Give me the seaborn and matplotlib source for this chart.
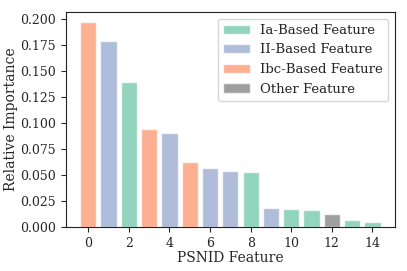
import matplotlib
matplotlib.use("Agg")
import matplotlib.pyplot as plt
import seaborn as sns
import pandas as pd
from matplotlib.patches import Patch
from matplotlib.ticker import FormatStrFormatter

features = list(range(15))
importance = [0.197, 0.179, 0.139, 0.094, 0.090, 0.063, 0.057, 0.054, 0.053,
              0.018, 0.017, 0.016, 0.013, 0.007, 0.005]
ftype = ["Ibc", "II", "Ia", "Ibc", "II", "Ibc", "II", "II", "Ia",
         "II", "Ia", "Ia", "Other", "Ia", "Ia"]
labels = ["Ia-Based Feature", "II-Based Feature", "Ibc-Based Feature", "Other Feature"]
types = ["Ia", "II", "Ibc", "Other"]
pal = {"Ia": "#66c2a5", "II": "#8da0cb", "Ibc": "#fc8d62", "Other": "#777777"}

df = pd.DataFrame({"feature": features, "importance": importance, "type": ftype})

sns.set_style("ticks")
plt.rcParams["font.family"] = ["DejaVu Serif"]
fig, ax = plt.subplots(figsize=(4.07, 2.71), dpi=100)
sns.barplot(data=df, x="feature", y="importance", hue="type", palette=pal,
            dodge=False, alpha=0.7, saturation=1, edgecolor="white", linewidth=1,
            legend=False, ax=ax, order=features)
ax.set_xticks(range(0, 15, 2))
ax.set_xticklabels([str(i) for i in range(0, 15, 2)], fontsize=9)
ax.set_yticks([0, 0.025, 0.05, 0.075, 0.1, 0.125, 0.15, 0.175, 0.2])
ax.yaxis.set_major_formatter(FormatStrFormatter("%.3f"))
ax.tick_params(axis="y", labelsize=9)
ax.set_ylim(0, 0.2067)
ax.set_xlim(-1.1, 15.1)
ax.set_xlabel("PSNID Feature", fontsize=10, labelpad=1)
ax.set_ylabel("Relative Importance", fontsize=10)
ax.yaxis.set_label_coords(-0.145, 0.5)
for s in ax.spines.values():
    s.set_color("#222222")
handles = [Patch(facecolor=pal[t], alpha=0.7, edgecolor="white") for t in types]
ax.legend(handles, labels, loc="upper right", fontsize=9.5)
fig.subplots_adjust(left=0.162, right=0.97, bottom=0.162, top=0.956)
fig.savefig("out.png", dpi=100)
